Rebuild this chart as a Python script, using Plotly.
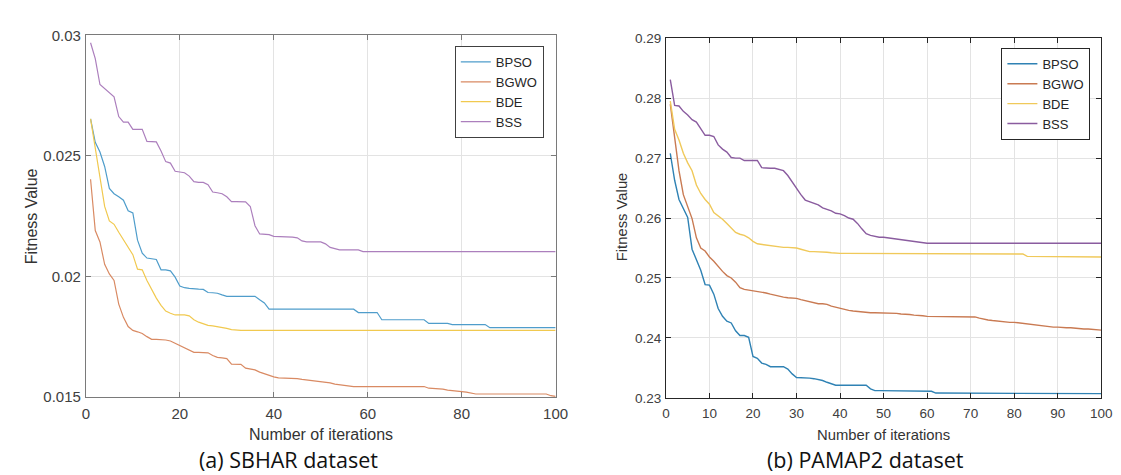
import plotly.graph_objects as go

iters = list(range(1, 101))

# ---- (a) SBHAR dataset ----
sbhar_bpso = ([0.02653, 0.02556, 0.02516, 0.02456, 0.02365, 0.02343, 0.0233, 0.02316, 0.02272, 0.02263,
               0.0215, 0.02096, 0.02076, 0.02072, 0.0207, 0.02027, 0.02027, 0.02023, 0.01997, 0.0196,
               0.01953, 0.0195, 0.0195, 0.01947, 0.01946, 0.01933, 0.01932, 0.0193, 0.01923, 0.01917]
              + [0.01917] * 6 + [0.01903, 0.0189] + [0.01864] * 19 + [0.0185] * 5 + [0.0182] * 10
              + [0.01805] * 5 + [0.018] * 8 + [0.01787] * 15)
sbhar_bgwo = ([0.02403, 0.0219, 0.02143, 0.0205, 0.0201, 0.01983, 0.01885, 0.0183, 0.01792, 0.01776,
               0.0177, 0.01763, 0.0175, 0.01739, 0.01739, 0.01738, 0.01736, 0.01732, 0.01723, 0.01712,
               0.01703, 0.01693, 0.01685, 0.01685, 0.01684, 0.01683, 0.01672, 0.01664, 0.01662, 0.01659,
               0.01636, 0.01636, 0.01635, 0.01619, 0.01617, 0.01612, 0.01603, 0.01596, 0.0159, 0.01583,
               0.01579, 0.01579, 0.01579, 0.01578, 0.01576, 0.01573, 0.01571, 0.01568, 0.01565, 0.01563,
               0.01561, 0.01558, 0.01553, 0.0155, 0.01546]
              + [0.01543] * 17
              + [0.01536, 0.01535, 0.01534, 0.01532, 0.01528, 0.01525, 0.01523, 0.01522, 0.0152, 0.01516]
              + [0.01512] * 16 + [0.01505, 0.01502])
sbhar_bde = ([0.02653, 0.02536, 0.02416, 0.0229, 0.0223, 0.02216, 0.02183, 0.0215, 0.0212, 0.0209,
              0.0203, 0.02027, 0.01983, 0.01943, 0.0191, 0.0188, 0.01856, 0.01847, 0.0184, 0.0184,
              0.0184, 0.01836, 0.0182, 0.0181, 0.01803, 0.01797, 0.01795, 0.01792, 0.01788, 0.01784,
              0.01779] + [0.01776] * 69)
sbhar_bss = ([0.02969, 0.02903, 0.02796, 0.02779, 0.0276, 0.02745, 0.02663, 0.0264, 0.0264, 0.0261,
              0.0261, 0.0261, 0.0256, 0.0256, 0.02558, 0.0252, 0.02476, 0.0247, 0.02436, 0.02433,
              0.0243, 0.02416, 0.02393, 0.0239, 0.0239, 0.0238, 0.0235, 0.02347, 0.02343, 0.0233,
              0.0231, 0.0231, 0.0231, 0.02309, 0.0229, 0.0221, 0.02176, 0.02173, 0.02173, 0.02166,
              0.02166, 0.02166, 0.02166, 0.02163, 0.0216, 0.02147, 0.02143, 0.02143, 0.02143, 0.02143,
              0.02135, 0.0212, 0.02115] + [0.0211] * 5 + [0.02103] * 42)

# ---- (b) PAMAP2 dataset ----
pamap_bpso = ([0.2708, 0.2663, 0.2631, 0.2617, 0.2601, 0.2548, 0.2532, 0.2513, 0.2489, 0.2488,
               0.2473, 0.2449, 0.2436, 0.2428, 0.2425, 0.2412, 0.2404, 0.2404, 0.2401, 0.2369,
               0.2366, 0.2358, 0.2356, 0.2352, 0.2352, 0.2352, 0.2352, 0.2348, 0.2340, 0.2334,
               0.2334, 0.2334, 0.2333, 0.2332, 0.2331, 0.2329, 0.2326, 0.2324]
              + [0.2321] * 8 + [0.2315] + [0.2312] * 12 + [0.2311, 0.2311] + [0.2308] * 19 + [0.2307] * 20)
pamap_bgwo = ([0.279, 0.2732, 0.2679, 0.2639, 0.262, 0.2599, 0.2567, 0.255, 0.2545, 0.2535,
               0.2528, 0.2519, 0.2511, 0.2504, 0.25, 0.2493, 0.2484, 0.2481, 0.248, 0.2479,
               0.2478, 0.2477, 0.2475, 0.2473, 0.2471, 0.2469, 0.2468, 0.2467, 0.2467, 0.2466,
               0.2464, 0.2462, 0.246, 0.2458, 0.2457, 0.2457, 0.2456, 0.2453, 0.2451, 0.2449,
               0.2448, 0.2446, 0.2445, 0.2444, 0.2443, 0.2442, 0.2442, 0.2442, 0.2442, 0.2442,
               0.2441, 0.2441, 0.2441, 0.244, 0.244, 0.2439, 0.2438, 0.2438, 0.2437, 0.2436]
              + [0.2436] * 10
              + [0.2435, 0.2433, 0.2431, 0.243, 0.2429, 0.2428, 0.2427, 0.2427, 0.2426, 0.2426,
                 0.2425, 0.2424, 0.2424, 0.2423, 0.2422, 0.2421, 0.2419, 0.2418, 0.2418, 0.2418,
                 0.2417, 0.2417, 0.2417, 0.2416, 0.2416, 0.2415, 0.2415, 0.2414, 0.2414, 0.2413])
pamap_bde = ([0.2795, 0.2748, 0.2730, 0.2708, 0.2692, 0.2679, 0.2655, 0.2641, 0.2631, 0.2623,
              0.2609, 0.2604, 0.2598, 0.2591, 0.2583, 0.2576, 0.2573, 0.2571, 0.2567, 0.2561,
              0.2557, 0.2556, 0.2555, 0.2553, 0.2552, 0.2551, 0.2551, 0.2551, 0.2551, 0.255,
              0.2548, 0.2546, 0.2544, 0.2544, 0.2544, 0.2543, 0.2543, 0.2542]
             + [0.2541] * 7 + [0.254] * 37 + [0.2536] * 6 + [0.2535] * 12)
pamap_bss = ([0.2831, 0.2788, 0.2787, 0.2778, 0.2772, 0.2764, 0.276, 0.2749, 0.2738, 0.2738,
              0.2736, 0.2722, 0.2715, 0.271, 0.2701, 0.27, 0.27, 0.2696, 0.2696, 0.2696,
              0.2696, 0.2684, 0.2683, 0.2683, 0.2683, 0.2681, 0.2679, 0.2671, 0.266, 0.2649,
              0.2639, 0.263, 0.2627, 0.2625, 0.2622, 0.2617, 0.2615, 0.2612, 0.2608, 0.2607,
              0.2604, 0.26, 0.2598, 0.2591, 0.2582, 0.2574, 0.2571, 0.2569, 0.2568, 0.2568,
              0.2567, 0.2565, 0.2564, 0.2563, 0.2562, 0.2561, 0.256, 0.256, 0.2559]
             + [0.2558] * 41)

names = ["BPSO", "BGWO", "BDE", "BSS"]
left_series = [sbhar_bpso, sbhar_bgwo, sbhar_bde, sbhar_bss]
right_series = [pamap_bpso, pamap_bgwo, pamap_bde, pamap_bss]
left_colors = ["#4f9dcb", "#d98a63", "#f1c94f", "#ac7fbd"]
right_colors = ["#2f82b4", "#c97a52", "#f0c95a", "#8a5c9f"]

left_yticks = [0.015, 0.02, 0.025, 0.03]
left_yticktext = ["0.015", "0.02", "0.025", "0.03"]
right_yticks = [0.23, 0.24, 0.25, 0.26, 0.27, 0.28, 0.29]
right_yticktext = ["0.23", "0.24", "0.25", "0.26", "0.27", "0.28", "0.29"]

fig = go.Figure()
for n, s, c in zip(names, left_series, left_colors):
    fig.add_trace(go.Scatter(x=iters, y=s, mode="lines", name=n, line=dict(color=c, width=1.2),
                             xaxis="x", yaxis="y", legend="legend"))
for n, s, c in zip(names, right_series, right_colors):
    fig.add_trace(go.Scatter(x=iters, y=s, mode="lines", name=n, line=dict(color=c, width=1.4),
                             xaxis="x2", yaxis="y2", legend="legend2"))

W, H = 1121, 475
FONT = "Liberation Sans, Arial"
tickfont_l = dict(family=FONT, size=15, color="#404040")
tickfont_r = dict(family=FONT, size=13.5, color="#404040")
common = dict(showgrid=True, gridcolor="#e3e3e3", gridwidth=1, showline=True, mirror="ticks",
              ticks="inside", ticklen=5, zeroline=False)

fig.update_layout(
    width=W, height=H,
    margin=dict(l=0, r=0, t=0, b=0),
    paper_bgcolor="white", plot_bgcolor="white",
    xaxis=dict(domain=[75 / W, 552 / W], range=[0, 100], tickvals=[0, 20, 40, 60, 80, 100],
               linecolor="#7a7a7a", tickcolor="#7a7a7a", tickfont=tickfont_l, anchor="y",
               ticklabelstandoff=3, **common),
    yaxis=dict(domain=[1 - 394 / H, 1 - 19 / H], range=[0.015, 0.03], tickvals=left_yticks,
               ticktext=left_yticktext, linecolor="#7a7a7a", tickcolor="#7a7a7a",
               tickfont=tickfont_l, anchor="x", ticklabelstandoff=1, **common),
    xaxis2=dict(domain=[664 / W, 1106 / W], range=[0, 100], dtick=10, tick0=0,
                linecolor="#262626", tickcolor="#262626", tickfont=tickfont_r, anchor="y2",
                ticklabelstandoff=3, **common),
    yaxis2=dict(domain=[1 - 395 / H, 1 - 22 / H], range=[0.23, 0.29], tickvals=right_yticks,
                ticktext=right_yticktext, linecolor="#262626", tickcolor="#262626",
                tickfont=tickfont_r, anchor="x2", ticklabelstandoff=1, **common),
    legend=dict(x=540 / W, y=1 - 30 / H, xanchor="right", yanchor="top", bgcolor="white",
                bordercolor="#404040", borderwidth=1,
                font=dict(family=FONT, size=13, color="#262626"),
                tracegroupgap=0, itemwidth=30),
    legend2=dict(x=1095 / W, y=1 - 32 / H, xanchor="right", yanchor="top", bgcolor="white",
                 bordercolor="#262626", borderwidth=1,
                 font=dict(family=FONT, size=13, color="#262626"),
                 tracegroupgap=0, itemwidth=30),
    showlegend=True,
)

ann_font = dict(family=FONT, size=16, color="#333333")
fig.add_annotation(text="Number of iterations", x=314 / W, y=1 - 433 / H, xref="paper", yref="paper",
                   showarrow=False, font=ann_font, xanchor="center", yanchor="middle")
fig.add_annotation(text="Number of iterations", x=885 / W, y=1 - 433 / H, xref="paper", yref="paper",
                   showarrow=False, font=dict(ann_font, size=14.8), xanchor="center", yanchor="middle")
fig.add_annotation(text="Fitness Value", x=20 / W, y=1 - 207 / H, xref="paper", yref="paper",
                   showarrow=False, font=ann_font, textangle=-90, xanchor="center", yanchor="middle")
fig.add_annotation(text="Fitness Value", x=619 / W, y=1 - 207 / H, xref="paper", yref="paper",
                   showarrow=False, font=dict(ann_font, size=14.8), textangle=-90,
                   xanchor="center", yanchor="middle")
cap_font = dict(family="Open Sans, Noto Sans", size=21.5, color="#111111")
fig.add_annotation(text="(a) SBHAR dataset", x=281 / W, y=1 - 459 / H, xref="paper", yref="paper",
                   showarrow=False, font=cap_font, xanchor="center", yanchor="middle")
fig.add_annotation(text="(b) PAMAP2 dataset", x=867 / W, y=1 - 459 / H, xref="paper", yref="paper",
                   showarrow=False, font=cap_font, xanchor="center", yanchor="middle")

fig.write_html("out.html")
